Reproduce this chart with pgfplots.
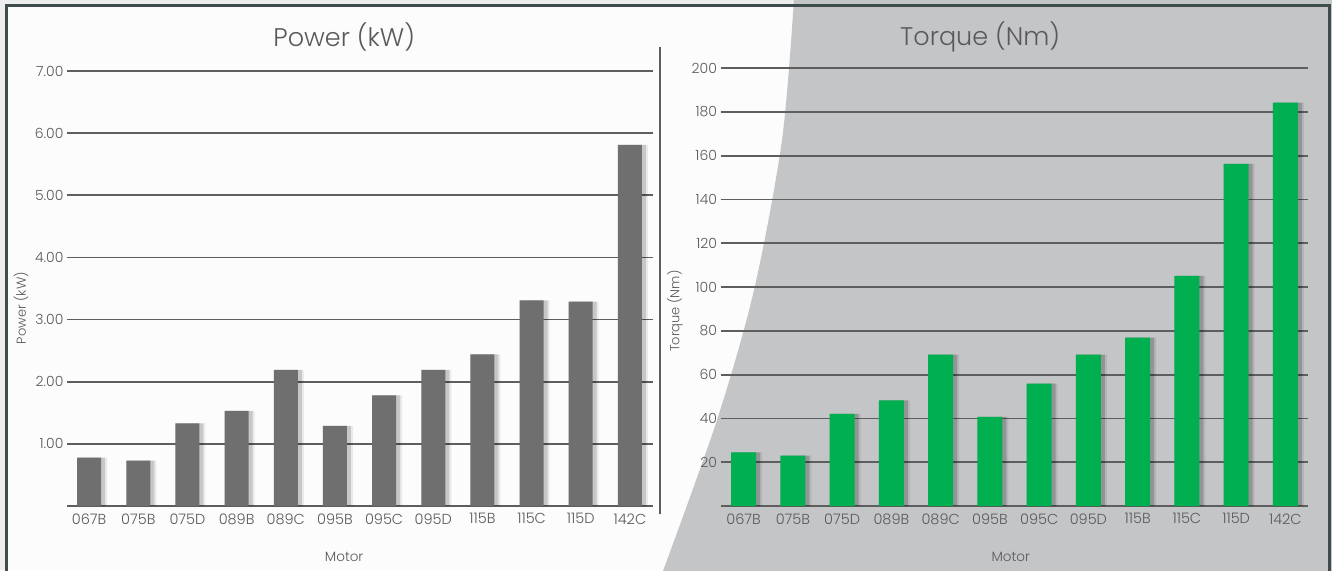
\documentclass[border=0pt]{standalone}
\usepackage{pgfplots}
\usepackage{pgfplotstable}
\pgfplotsset{compat=1.18}
\usepackage{fontspec}
\setmainfont{Poppins}[UprightFont={* Light}]
\definecolor{txt}{HTML}{5A5A5A}
\definecolor{gridc}{HTML}{5E5E5E}
\definecolor{barg}{HTML}{6F6F6F}
\definecolor{barG}{HTML}{00B050}
\definecolor{bgR}{HTML}{C4C5C7}
\definecolor{framec}{HTML}{3E4C4D}

\pgfplotstableread{
x power torque
0  0.78  24.5
1  0.73  23.0
2  1.33  42.1
3  1.53  48.2
4  2.19  69.2
5  1.29  40.7
6  1.78  55.9
7  2.19  69.2
8  2.44  76.9
9  3.31  105.1
10 3.29  156.3
11 5.81  184.3
}\data

\pgfplotsset{
  panel/.style={
    scale only axis,
    anchor=south west,
    axis line style={draw=none},
    major tick length=0pt,
    ymajorgrids,
    grid style={line width=1.8pt, color=gridc},
    xtick={0,...,11},
    xticklabels={067B,075B,075D,089B,089C,095B,095C,095D,115B,115C,115D,142C},
    xticklabel style={font=\fontsize{14.5}{16}\selectfont, text=txt, yshift=-4pt},
    yticklabel style={font=\fontsize{14}{16}\selectfont, text=txt},
    title style={font=\fontsize{25.5}{28}\selectfont, text=txt, anchor=center},
    xlabel style={font=\fontsize{13.5}{15}\selectfont, text=txt, anchor=center},
    ylabel style={font=\fontsize{13}{15}\selectfont, text=txt, anchor=center},
    xlabel={Motor},
  }
}

\begin{document}
\begin{tikzpicture}
\useasboundingbox (0pt,0pt) rectangle (1332pt,570pt);
\begin{scope}
\clip (0pt,0pt) rectangle (1332pt,570pt);
\fill[white!93!black] (0pt,0pt) rectangle (1332pt,570pt);
\fill[white!99!black] (6pt,0pt) rectangle (1329pt,564pt);
\fill[bgR] plot[smooth] coordinates {(794pt,571pt) (782pt,430pt) (754pt,280pt) (717pt,150pt) (663pt,-1pt)} -- (1333pt,-1pt) -- (1333pt,571pt) -- cycle;
\draw[framec, line width=3pt] (6pt,-10pt) rectangle (1329pt,564pt);
\end{scope}
\draw[gridc, line width=1.2pt] (660pt,56pt) -- (660pt,523pt);

% Power
\begin{axis}[panel,
  at={(67pt,64pt)}, width=586pt, height=435pt,
  xmin=-0.45, xmax=11.47, ymin=0, ymax=7,
  ytick={0,1,...,7},
  yticklabels={,1.00,2.00,3.00,4.00,5.00,6.00,7.00},
  title={Power (kW)},
  title style={at={(axis description cs:0.473,1.064)}},
  xlabel style={at={(axis description cs:0.473,-0.117)}},
  ylabel={Power (kW)},
  ylabel style={at={(axis description cs:-0.0785,0.455)}},
]
\addplot[ybar, bar width=30pt, bar shift=3pt, fill=black, opacity=0.07, draw=none] table[x=x,y=power]{\data};
\addplot[ybar, bar width=26pt, bar shift=3pt, fill=black, opacity=0.15, draw=none] table[x=x,y=power]{\data};
\addplot[ybar, bar width=24pt, bar shift=0pt, fill=barg, draw=none] table[x=x,y=power]{\data};
\end{axis}

% Torque
\begin{axis}[panel,
  at={(720.5pt,64pt)}, width=587.5pt, height=437.8pt,
  xmin=-0.47, xmax=11.46, ymin=0, ymax=200,
  ytick={0,20,...,200},
  yticklabels={,20,40,60,80,100,120,140,160,180,200},
  title={Torque (Nm)},
  title style={at={(axis description cs:0.442,1.057)}},
  xlabel style={at={(axis description cs:0.494,-0.116)}},
  ylabel={Torque (Nm)},
  ylabel style={at={(axis description cs:-0.0774,0.445)}},
]
\addplot[ybar, bar width=31pt, bar shift=3pt, fill=black, opacity=0.08, draw=none] table[x=x,y=torque]{\data};
\addplot[ybar, bar width=27pt, bar shift=3pt, fill=black, opacity=0.18, draw=none] table[x=x,y=torque]{\data};
\addplot[ybar, bar width=25pt, bar shift=0pt, fill=barG, draw=none] table[x=x,y=torque]{\data};
\end{axis}
\end{tikzpicture}
\end{document}
